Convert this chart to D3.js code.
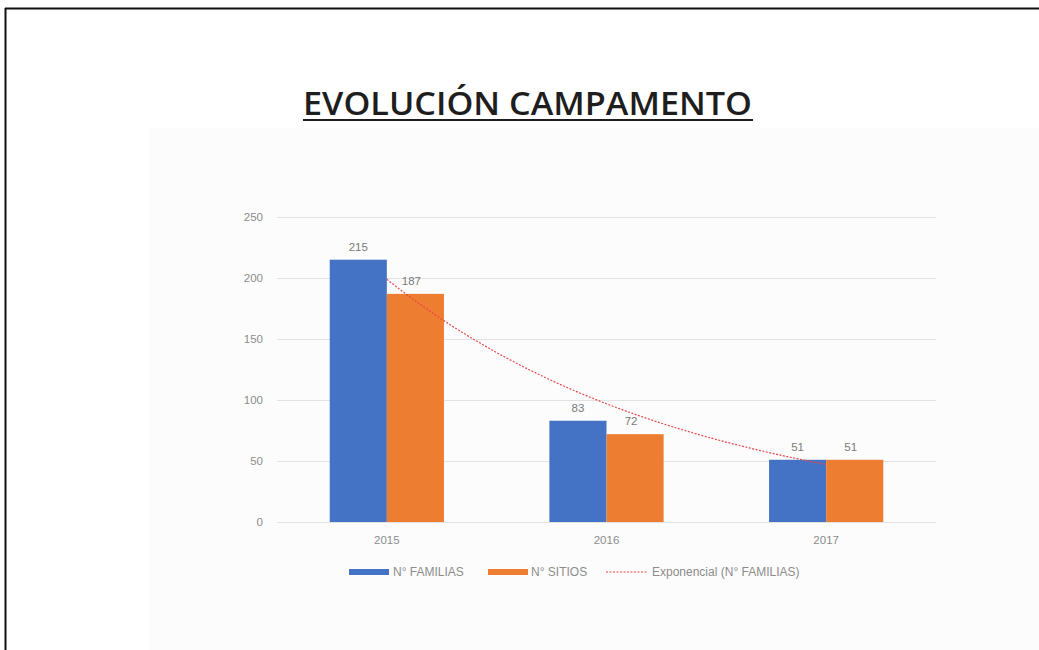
<!DOCTYPE html>
<html><head><meta charset="utf-8">
<script src="https://cdn.jsdelivr.net/npm/d3@7"></script>
<style>html,body{margin:0;padding:0;background:#fff;overflow:hidden}</style>
</head><body>
<svg id="c" width="1039" height="650"></svg>
<script>
const categories = ["2015", "2016", "2017"];
const familias = [215, 83, 51];
const sitios = [187, 72, 51];
const yTicks = [0, 50, 100, 150, 200, 250];
const seriesNames = ["N° FAMILIAS", "N° SITIOS", "Exponencial (N° FAMILIAS)"];
const titleText = "EVOLUCIÓN CAMPAMENTO";

const svg = d3.select("#c");
const W = 1039, H = 650;
svg.append("rect").attr("width", W).attr("height", H).attr("fill", "#fff");
svg.append("rect").attr("x", 150).attr("y", 128).attr("width", W - 150).attr("height", H - 128).attr("fill", "#fcfcfc");

// frame
svg.append("line").attr("x1", 5).attr("x2", W).attr("y1", 8.5).attr("y2", 8.5).attr("stroke", "#111").attr("stroke-width", 2);
svg.append("line").attr("x1", 5.5).attr("x2", 5.5).attr("y1", 8).attr("y2", H).attr("stroke", "#111").attr("stroke-width", 2);

// title
svg.append("text").attr("x", 303).attr("y", 115)
  .attr("font-family", "Open Sans, Noto Sans, sans-serif").attr("font-weight", 600).attr("font-size", 32)
  .attr("fill", "#1e1e1e").attr("textLength", 449).attr("lengthAdjust", "spacingAndGlyphs").text(titleText);
svg.append("line").attr("x1", 303).attr("x2", 753).attr("y1", 120).attr("y2", 120).attr("stroke", "#1e1e1e").attr("stroke-width", 2.2);

const x0 = 277, x1 = 936, yBase = 522;
const x = d3.scaleBand().domain(categories).range([x0, x1]).paddingInner(0.48).paddingOuter(0.24);
const xs = d3.scaleBand().domain(["f", "s"]).range([0, x.bandwidth()]);
const y = d3.scaleLinear().domain([0, 250]).range([yBase, 217]);

const font = "Liberation Sans, Arial, sans-serif";
const fs = 11.5;
const g = svg.append("g");
// gridlines
g.selectAll("line.grid").data(yTicks).join("line")
  .attr("x1", x0).attr("x2", x1).attr("y1", d => Math.round(y(d)) + 0.5).attr("y2", d => Math.round(y(d)) + 0.5)
  .attr("stroke", "#e2e2e2").attr("stroke-width", 1);
// y axis labels
g.selectAll("text.yt").data(yTicks).join("text")
  .attr("x", 263).attr("y", d => y(d) + 4).attr("text-anchor", "end")
  .attr("font-family", font).attr("font-size", fs).attr("fill", "#8c8c8c").text(d => d);

// bars
const colors = {f: "#4472C4", s: "#ED7D31"};
const data = categories.map((c, i) => ({c, f: familias[i], s: sitios[i]}));
["f", "s"].forEach(k => {
  g.selectAll("rect.b" + k).data(data).join("rect")
    .attr("x", d => x(d.c) + xs(k)).attr("width", xs.bandwidth())
    .attr("y", d => y(d[k])).attr("height", d => yBase - y(d[k]))
    .attr("fill", colors[k]);
  g.selectAll("text.l" + k).data(data).join("text")
    .attr("x", d => x(d.c) + xs(k) + xs.bandwidth() / 2 - (k === "s" ? 4 : 0)).attr("y", d => y(d[k]) - 9)
    .attr("text-anchor", "middle").attr("font-family", font).attr("font-size", fs).attr("fill", "#7a7a7a")
    .text(d => d[k]);
});

// exponential trendline fitted to N° FAMILIAS
const n = familias.length;
const xsIdx = familias.map((_, i) => i + 1);
const lv = familias.map(v => Math.log(v));
const mx = d3.mean(xsIdx), my = d3.mean(lv);
const b = d3.sum(xsIdx.map((xi, i) => (xi - mx) * (lv[i] - my))) / d3.sum(xsIdx.map(xi => (xi - mx) ** 2));
const a = my - b * mx;
const trend = d3.range(1, n + 0.001, 0.05).map(t => ({t, v: Math.exp(a + b * t)}));
const tx = t => x(categories[0]) + x.bandwidth() / 2 + (t - 1) * x.step();
g.append("path").datum(trend)
  .attr("d", d3.line().x(d => tx(d.t)).y(d => y(d.v)).curve(d3.curveMonotoneX))
  .attr("fill", "none").attr("stroke", "#e8474b").attr("stroke-width", 1.2).attr("stroke-dasharray", "2,1.5");

// x labels
g.selectAll("text.xt").data(categories).join("text")
  .attr("x", d => x(d) + x.bandwidth() / 2).attr("y", 544).attr("text-anchor", "middle")
  .attr("font-family", font).attr("font-size", fs).attr("fill", "#8c8c8c").text(d => d);

// legend
const ly0 = 572;
const leg = svg.append("g").attr("font-family", font).attr("font-size", fs + 0.5).attr("fill", "#8c8c8c");
leg.append("rect").attr("x", 349).attr("y", ly0 - 3).attr("width", 40).attr("height", 6).attr("fill", colors.f);
leg.append("text").attr("x", 393).attr("y", ly0 + 4).text(seriesNames[0]);
leg.append("rect").attr("x", 488).attr("y", ly0 - 3).attr("width", 40).attr("height", 6).attr("fill", colors.s);
leg.append("text").attr("x", 531).attr("y", ly0 + 4).text(seriesNames[1]);
leg.append("line").attr("x1", 606).attr("x2", 647).attr("y1", ly0).attr("y2", ly0)
  .attr("stroke", "#e8474b").attr("stroke-width", 1).attr("stroke-dasharray", "2,1.5");
leg.append("text").attr("x", 652).attr("y", ly0 + 4).text(seriesNames[2]);
</script>
</body></html>
